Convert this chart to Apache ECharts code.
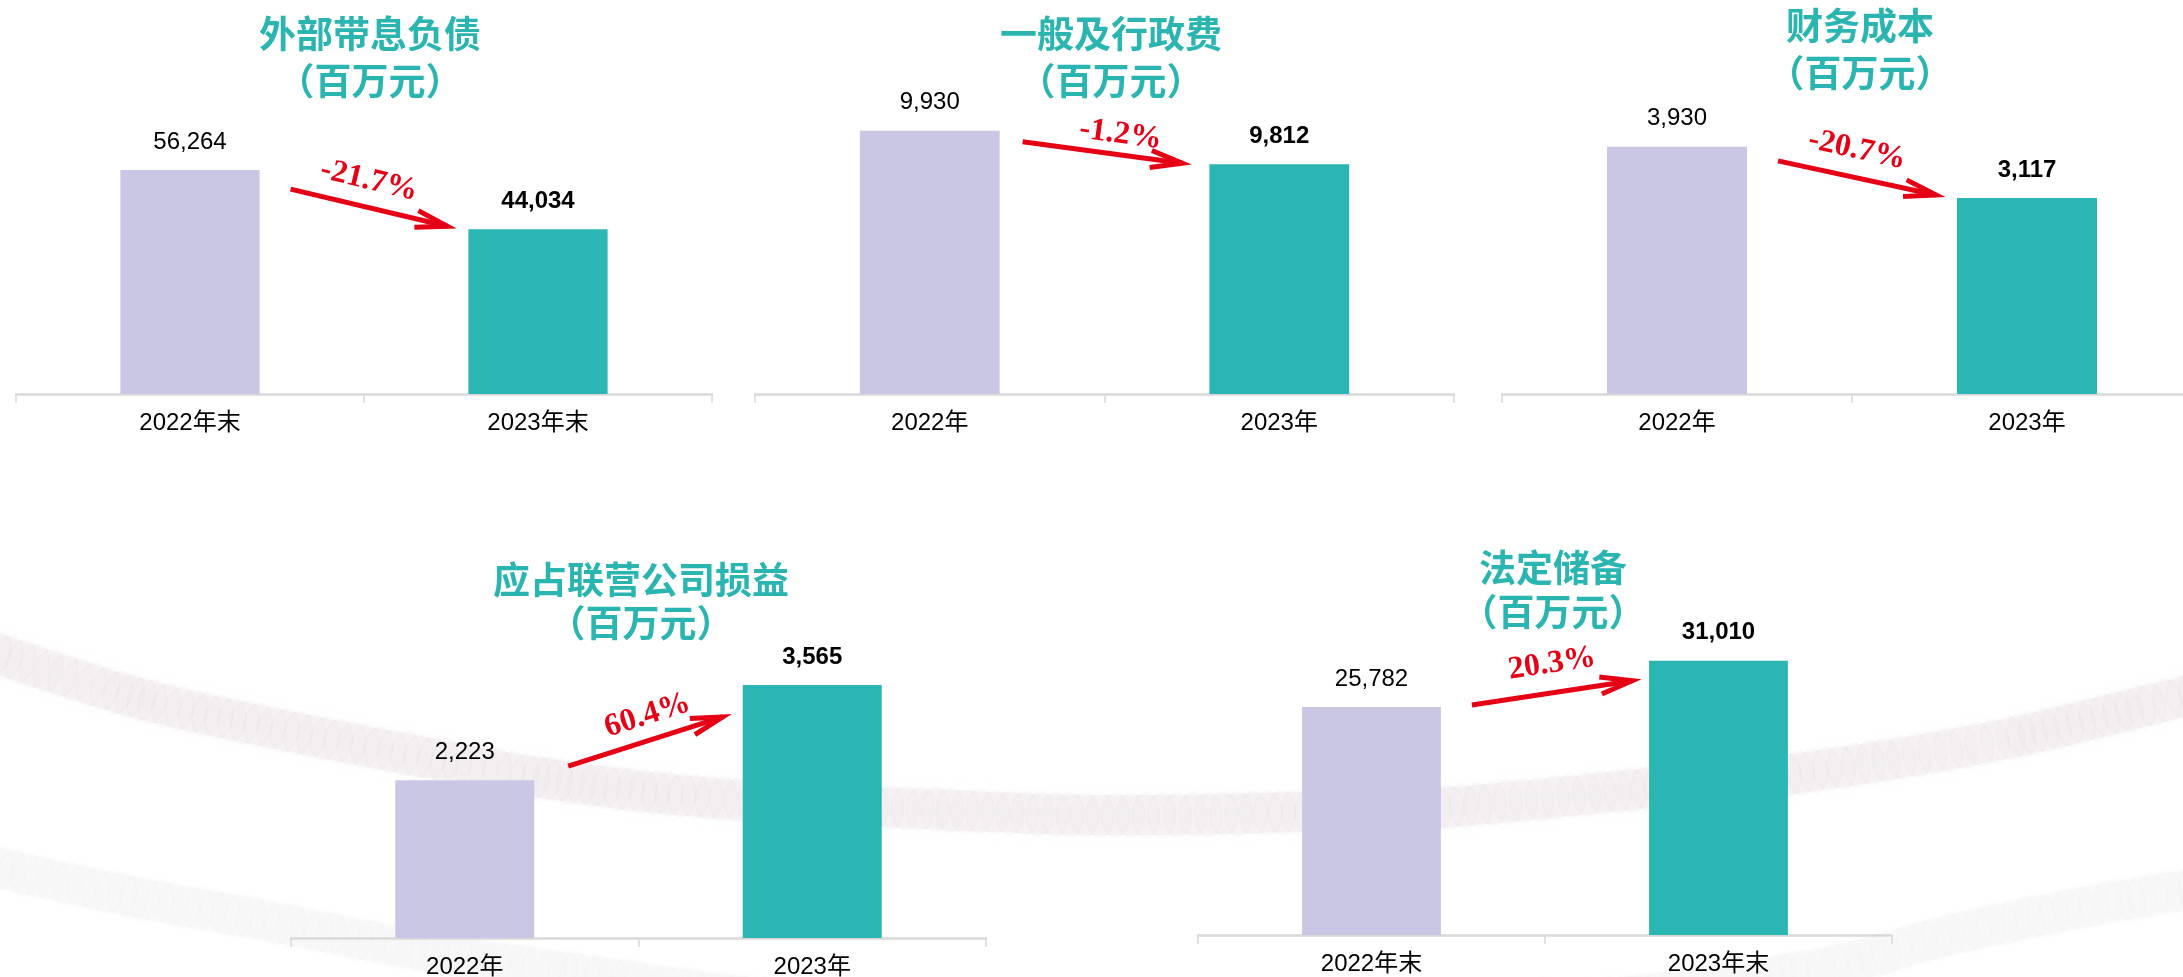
<!DOCTYPE html>
<html>
<head>
<meta charset="utf-8">
<script src="https://cdn.jsdelivr.net/npm/echarts@6/dist/echarts.min.js"></script>
<style>
  html, body { margin: 0; padding: 0; background: #ffffff; }
  #main { width: 2183px; height: 977px; }
</style>
</head>
<body>
<div id="main"></div>
<script>
// ---- data ----
const titles = ['外部带息负债', '一般及行政费', '财务成本', '应占联营公司损益', '法定储备'];
const unitLine = '（百万元）';
const categories = [
  ['2022年末', '2023年末'],
  ['2022年', '2023年'],
  ['2022年', '2023年'],
  ['2022年', '2023年'],
  ['2022年末', '2023年末']
];
const values2022 = [56264, 9930, 3930, 2223, 25782];
const values2023 = [44034, 9812, 3117, 3565, 31010];
const axisMin = [10000, 9000, 0, 0, 0];
const axisMax = [60000, 10000, 4500, 4000, 32000];

// ---- layout & style ----
const grids = [
  { left: 16,   top: 152, width: 696, height: 242 },
  { left: 755,  top: 111, width: 699, height: 283 },
  { left: 1502, top: 111, width: 700, height: 283 },
  { left: 291,  top: 654, width: 695, height: 284 },
  { left: 1198, top: 652, width: 694, height: 283 }
];
const titlePos = [[370, 34, 81], [1111, 34, 81], [1860, 26, 73], [641, 580, 623], [1553, 568, 612]];
const arrowStartOff = [[31, 19], [23, 11], [31, 14], [34, -14], [31, -2]];
const arrowEndOff = [[-21, -3], [-27, -1], [-21, -3], [-20, 32], [-17, 20]];
const pctOff = [[0, -27], [18, -18], [0, -28], [2, -26], [0, -29]];

const COLOR_PREV = '#c9c7e3';
const COLOR_CURR = '#2bb5b3';
const COLOR_TITLE = '#2bb5b1';
const COLOR_ARROW = '#e60016';
const LATIN = '"Liberation Sans", "Noto Sans CJK SC", sans-serif';

// background bead strands (path control points)
const strandUpper = [[-30, 645], [134, 697], [268, 727], [402, 753], [536, 777], [700, 797], [900, 808], [1100, 815], [1300, 812], [1450, 807], [1650, 788], [1800, 773], [2000, 740], [2210, 690]];
const strandLower = [[-30, 862], [134, 897], [268, 921], [402, 947], [536, 968], [800, 1002], [1100, 1018], [1500, 1008], [1800, 972], [1950, 935], [2080, 908], [2210, 886]];

function fmt(v) {
  return String(v).replace(/\B(?=(\d{3})+(?!\d))/g, ',');
}

const chart = echarts.init(document.getElementById('main'), null, { renderer: 'canvas' });

const option = {
  animation: false,
  backgroundColor: '#ffffff',
  grid: grids.map(g => Object.assign({ containLabel: false, outerBoundsMode: 'none' }, g)),
  xAxis: categories.map((cats, i) => ({
    type: 'category',
    gridIndex: i,
    data: cats,
    axisLine: { show: true, lineStyle: { color: '#d9d9d9', width: 2.5 } },
    axisTick: { show: true, length: 9, lineStyle: { color: '#d9d9d9', width: 1.5 } },
    axisLabel: { color: '#000000', fontSize: 24, fontFamily: LATIN, margin: 17 },
    splitLine: { show: false }
  })),
  yAxis: axisMin.map((mn, i) => ({
    type: 'value',
    gridIndex: i,
    min: mn,
    max: axisMax[i],
    show: false,
    splitLine: { show: false }
  })),
  series: values2022.map((v, i) => ({
    type: 'bar',
    xAxisIndex: i,
    yAxisIndex: i,
    barWidth: '40%',
    z: 3,
    label: {
      show: true,
      position: 'top',
      distance: 16,
      color: '#000000',
      fontSize: 24,
      fontFamily: LATIN,
      formatter: p => fmt(p.value)
    },
    data: [
      { value: v, itemStyle: { color: COLOR_PREV }, label: { fontWeight: 'normal' } },
      { value: values2023[i], itemStyle: { color: COLOR_CURR }, label: { fontWeight: 'bold' } }
    ]
  }))
};

chart.setOption(option);

// ---- overlay: background strands, titles, change arrows ----
const elements = [];

// sample a Catmull-Rom curve through the control points
function sampleCurve(pts, steps) {
  const out = [];
  for (let i = 0; i < pts.length - 1; i++) {
    const p0 = pts[Math.max(i - 1, 0)], p1 = pts[i], p2 = pts[i + 1], p3 = pts[Math.min(i + 2, pts.length - 1)];
    for (let s = 0; s < steps; s++) {
      const t = s / steps, t2 = t * t, t3 = t2 * t;
      const f = k => 0.5 * ((2 * p1[k]) + (-p0[k] + p2[k]) * t + (2 * p0[k] - 5 * p1[k] + 4 * p2[k] - p3[k]) * t2 + (-p0[k] + 3 * p1[k] - 3 * p2[k] + p3[k]) * t3);
      out.push([f(0), f(1)]);
    }
  }
  out.push(pts[pts.length - 1]);
  return out;
}

// soft band with a string of translucent beads laid along it
function beads(pts, spacing, rx, ry, k) {
  elements.push({
    type: 'polyline', z: -11, silent: true,
    shape: { points: sampleCurve(pts, 20) },
    style: { fill: null, stroke: 'rgba(230,218,221,' + (0.35 * k) + ')', lineWidth: 40, lineCap: 'round',
             shadowBlur: 16, shadowColor: 'rgba(230,218,221,' + (0.5 * k) + ')' }
  });
  const dense = sampleCurve(pts, 40);
  let acc = spacing;
  for (let i = 1; i < dense.length; i++) {
    const [x0, y0] = dense[i - 1], [x1, y1] = dense[i];
    acc += Math.hypot(x1 - x0, y1 - y0);
    if (acc >= spacing) {
      acc = 0;
      elements.push({
        type: 'ellipse', z: -10, silent: true,
        x: x1, y: y1, rotation: -Math.atan2(y1 - y0, x1 - x0),
        shape: { cx: 0, cy: 0, rx: rx, ry: ry },
        style: { fill: 'rgba(214,194,199,' + (0.06 * k) + ')', stroke: 'rgba(196,172,178,' + (0.07 * k) + ')', lineWidth: 1.5 }
      });
    }
  }
}
beads(strandUpper, 11, 14, 22, 0.72);
beads(strandLower, 11, 14, 22, 0.4);

titles.forEach((t, i) => {
  const [cx, y1, y2] = titlePos[i];
  [[t, y1], [unitLine, y2]].forEach(([txt, y]) => {
    elements.push({
      type: 'text', x: cx, y: y, z: 10,
      style: {
        text: txt, fill: COLOR_TITLE,
        fontFamily: '"Noto Sans CJK SC", sans-serif', fontSize: 37, fontWeight: 'bold', fontStyle: 'normal',
        textAlign: 'center', textVerticalAlign: 'middle'
      }
    });
  });
});

values2022.forEach((v0, i) => {
  const v1 = values2023[i];
  const p0 = chart.convertToPixel({ gridIndex: i }, [0, v0]);
  const p1 = chart.convertToPixel({ gridIndex: i }, [1, v1]);
  const half = (p1[0] - p0[0]) * 0.2;
  const sx = p0[0] + half + arrowStartOff[i][0];
  const sy = p0[1] + arrowStartOff[i][1];
  const ex = p1[0] - half + arrowEndOff[i][0];
  const ey = p1[1] + arrowEndOff[i][1];
  const a = Math.atan2(ey - sy, ex - sx);
  const L = 33, th = 15 * Math.PI / 180;
  const arm1 = [ex - L * Math.cos(a - th), ey - L * Math.sin(a - th)];
  const arm2 = [ex - L * Math.cos(a + th), ey - L * Math.sin(a + th)];

  elements.push({
    type: 'polyline', z: 10, silent: true,
    shape: { points: [[sx, sy], [ex, ey]] },
    style: { fill: null, stroke: COLOR_ARROW, lineWidth: 5 }
  });
  elements.push({
    type: 'polyline', z: 10, silent: true,
    shape: { points: [arm1, [ex, ey], arm2] },
    style: { fill: null, stroke: COLOR_ARROW, lineWidth: 5, lineJoin: 'miter' }
  });

  const pct = ((v1 - v0) / v0 * 100).toFixed(1) + '%';
  elements.push({
    type: 'text', z: 11,
    x: (sx + ex) / 2 + pctOff[i][0],
    y: (sy + ey) / 2 + pctOff[i][1],
    rotation: -a,
    style: {
      text: pct, fill: COLOR_ARROW,
      fontFamily: '"Liberation Serif", "Times New Roman", serif', fontSize: 32,
      fontWeight: 'bold', fontStyle: 'normal',
      textAlign: 'center', textVerticalAlign: 'middle'
    }
  });
});

chart.setOption({ graphic: { elements: elements } });
</script>
</body>
</html>
